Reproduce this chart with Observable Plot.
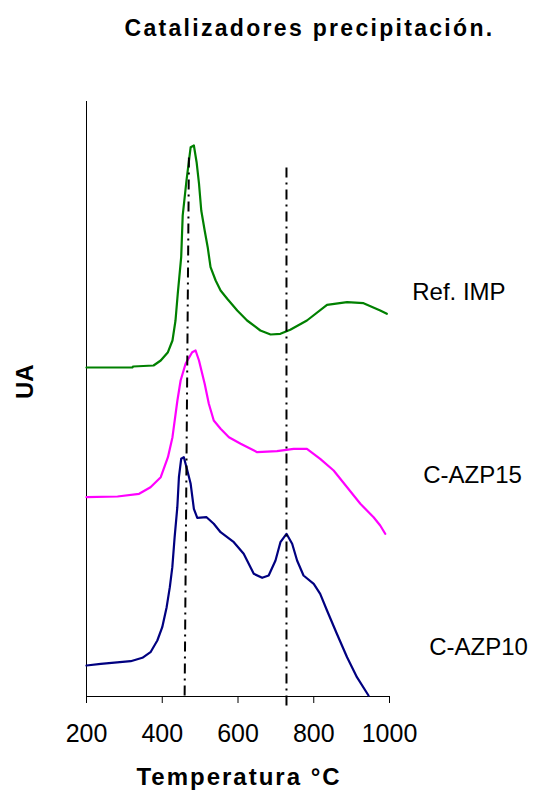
<!DOCTYPE html>
<html>
<head>
<meta charset="utf-8">
<script src="https://cdn.jsdelivr.net/npm/d3@7"></script>
<script src="https://cdn.jsdelivr.net/npm/@observablehq/plot@0.6"></script>
<style>
  body { margin: 0; background: #fff; font-family: "Liberation Sans", Arial, sans-serif; }
  #title { height: 60px; box-sizing: border-box; padding-top: 17px; padding-left: 80px; text-align: center;
           font-size: 23px; line-height: 23px; font-weight: bold; letter-spacing: 2.3px; color: #000; width: 539px; }
</style>
</head>
<body>
<div id="title">Catalizadores precipitación.</div>
<div id="chart"></div>
<script>
// Temperature (°C) and signal (arbitrary units, UA)
const greenT = [200,321,323,377,396,415,427,435,441,450,454,464,475,483.5,490.7,497,503,512,520,527.5,541,554,571.5,598,624,659,686,712,738,782,835,888,931.5,975.5,993];
const greenY = [329,329,330,331,336,344.3,356,376,403,439.3,481,516,549.3,551,534.3,513,486,466,449.3,429.3,416,406,397.7,386,376,366,362,362.7,366.7,376,391.7,394.3,393.3,386,382.7];

const magT = [200,282,339,369,396,415,427,440,448.5,461.6,479,488,497,512,523,536,554,576,607,650.6,703,747,782,817,852.5,888,923,958,975.5,988.7];
const magY = [199.3,200,202.7,209.3,219.3,239.3,259.3,296,316,332.7,344.3,346,336,312.7,292.7,276,267.7,259.3,252.7,244.3,245.3,247.7,247.7,237.7,226,209.3,192.7,179.3,171,162.7];

const navT = [200,237.7,316.7,347.5,369,387,400,411.6,420,426.6,432.7,439.8,444,450,457,464,475,483.5,492.5,517,536,554,589,615,641.6,663.8,681,699,712,728,743,756,773,800,817,835,861,888,914,944.6];
const navY = [31,32.7,35.3,38.7,44.3,56,69.3,89.3,109.3,129.3,159.3,189.3,219.3,237.7,239.3,229.3,212.7,187.7,178.7,179.3,172.7,164.3,154.3,142.7,122.7,118.7,121,136,154.3,162.7,152.7,136,121,112.7,102.7,86,62.7,39.3,19.3,1];

const seriesNames = ["Ref. IMP", "C-AZP15", "C-AZP10"];
const seriesColors = ["#008000", "#FF00FF", "#000080"];
const labelT = [1060, 1089, 1105];
const labelY = [403.7, 221, 48.7];

// dash-dot reference lines (temperature at top / bottom, UA at top / bottom)
const refTopT = [470.4, 728];
const refBotT = [459, 728];
const refTopY = [539, 529];
const refBotY = [-4, -9];

const xTicks = [200, 400, 600, 800, 1000];
const xLabel = "Temperatura °C";

const toRows = (T, Y, s) => T.map((t, i) => ({t, v: Y[i], s}));
const rows = [
  ...toRows(greenT, greenY, seriesNames[0]),
  ...toRows(magT, magY, seriesNames[1]),
  ...toRows(navT, navY, seriesNames[2])
];
const labels = seriesNames.map((s, i) => ({s, t: labelT[i], v: labelY[i]}));
const refs = refTopT.map((t, i) => ({t1: t, t2: refBotT[i], v1: refTopY[i], v2: refBotY[i]}));

const plot = Plot.plot({
  width: 539,
  height: 739,
  marginLeft: 86,
  marginRight: 150,
  marginTop: 41,
  marginBottom: 103,
  style: {fontFamily: "'Liberation Sans', Arial, sans-serif", color: "#000", background: "#fff"},
  x: {domain: [200, 1000]},
  y: {domain: [0, 595], axis: null},
  color: {domain: seriesNames, range: seriesColors},
  marks: [
    Plot.axisX({ticks: xTicks, tickFormat: d => String(d), tickSize: 7, tickPadding: 21, fontSize: 25, label: null, stroke: "#000"}),
    Plot.ruleY([0], {stroke: "#000", strokeWidth: 1}),
    Plot.ruleX([200], {y1: 0, y2: 595, stroke: "#000", strokeWidth: 1}),
    Plot.line(rows, {x: "t", y: "v", z: "s", stroke: "s", strokeWidth: 2.2}),
    Plot.link(refs, {x1: "t1", y1: "v1", x2: "t2", y2: "v2", stroke: "#000", strokeWidth: 2, strokeDasharray: "10,5,2,5"}),
    Plot.text(labels, {x: "t", y: "v", text: "s", textAnchor: "start", fontSize: 24, fill: "#000"}),
    Plot.text([xLabel], {frameAnchor: "bottom", dy: 88.3, dx: 1, fontSize: 24, fontWeight: "bold", fill: "#000"}),
    Plot.text(["UA"], {frameAnchor: "left", dx: -60.7, rotate: -90, fontSize: 24, fontWeight: "bold", fill: "#000"})
  ]
});
d3.select(plot).selectAll("text")
  .filter(function() { return this.textContent === xLabel; })
  .style("letter-spacing", "2px");
document.getElementById("chart").appendChild(plot);
</script>
</body>
</html>
